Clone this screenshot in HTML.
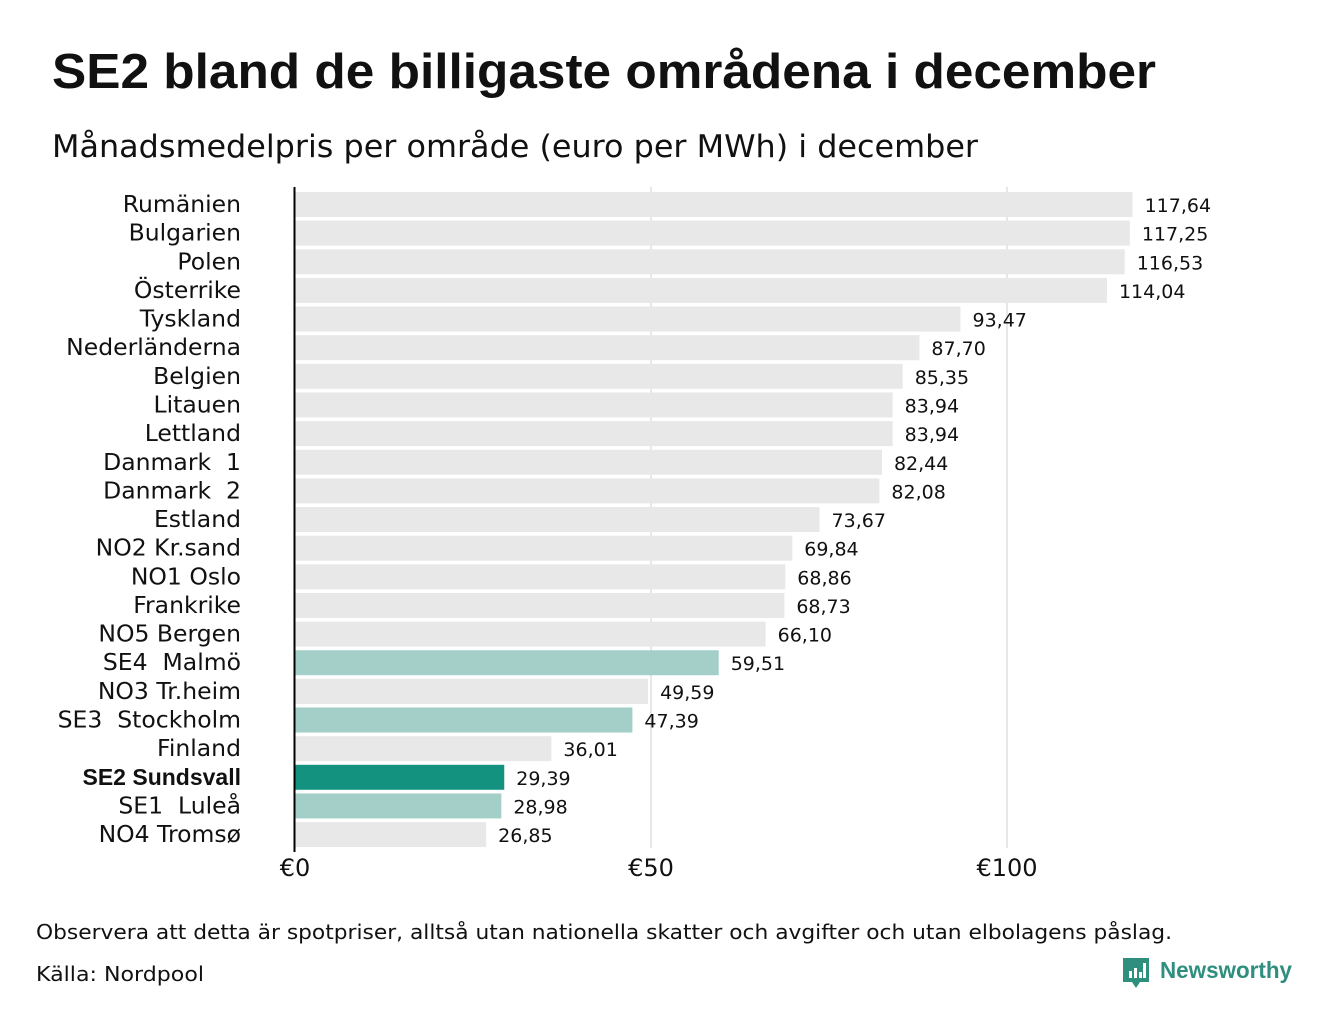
<!DOCTYPE html>
<html><head><meta charset="utf-8"><style>
body{margin:0;background:#fff;width:1340px;height:1020px;overflow:hidden;font-family:"DejaVu Sans","Liberation Sans",sans-serif}
svg{position:absolute;left:0;top:0}
</style></head><body>
<svg id="c" width="1340" height="1020">
<text x="52" y="88" font-size="49" font-weight="bold" fill="#111" font-family="Liberation Sans, sans-serif" textLength="1104" lengthAdjust="spacingAndGlyphs">SE2 bland de billigaste områdena i december</text>
<text x="52" y="157" font-size="31" fill="#111" textLength="926" lengthAdjust="spacingAndGlyphs">Månadsmedelpris per område (euro per MWh) i december</text>
<text x="36" y="939" font-size="20" fill="#111" textLength="1136" lengthAdjust="spacingAndGlyphs">Observera att detta är spotpriser, alltså utan nationella skatter och avgifter och utan elbolagens påslag.</text>
<text x="36" y="981" font-size="20" fill="#111" textLength="168" lengthAdjust="spacingAndGlyphs">Källa: Nordpool</text>
<g>
<path d="M1123 958 h26 v24 h-9 l-4 6 l-4 -6 h-9 z" fill="#2f8f7f"/>
<rect x="1129" y="971" width="3" height="7" fill="#fff"/><rect x="1134" y="968" width="3" height="10" fill="#fff"/><rect x="1139" y="972" width="3" height="6" fill="#fff"/><rect x="1143" y="963" width="3" height="15" fill="#fff"/>
<text x="1160" y="978" font-size="23" font-weight="bold" fill="#2f8f7f" font-family="Liberation Sans, sans-serif" textLength="132" lengthAdjust="spacingAndGlyphs">Newsworthy</text>
</g>
</svg>
<script>
const categories=["Rumänien","Bulgarien","Polen","Österrike","Tyskland","Nederländerna","Belgien","Litauen","Lettland","Danmark  1","Danmark  2","Estland","NO2 Kr.sand","NO1 Oslo","Frankrike","NO5 Bergen","SE4  Malmö","NO3 Tr.heim","SE3  Stockholm","Finland","SE2 Sundsvall","SE1  Luleå","NO4 Tromsø"];
const values=[117.64,117.25,116.53,114.04,93.47,87.70,85.35,83.94,83.94,82.44,82.08,73.67,69.84,68.86,68.73,66.10,59.51,49.59,47.39,36.01,29.39,28.98,26.85];
const highlight=[0,0,0,0,0,0,0,0,0,0,0,0,0,0,0,0,1,0,1,0,2,1,0];
const ticks=[0,50,100];
const tickLabels=["€0","€50","€100"];
const svg=document.getElementById('c');const NS="http://www.w3.org/2000/svg";
const x=v=>295+v*7.12;
const y=i=>192+i*28.64;
function mk(t,a){const e=document.createElementNS(NS,t);for(const k in a)e.setAttribute(k,a[k]);svg.appendChild(e);return e;}
ticks.forEach((t,i)=>{
 if(t>0){const g=mk('line',{x1:x(t),x2:x(t),y1:187,y2:848,stroke:'#cfcfcf','stroke-width':1});
 
 }
 const l=mk('text',{x:x(t),y:876,'font-size':24,'text-anchor':'middle',fill:'#111'});l.textContent=tickLabels[i];
 
 
});
const cols=['#e8e8e8','#a3cfc8','#13927f'];
categories.forEach((c,i)=>{
 const r=mk('rect',{x:x(0),y:y(i),width:x(values[i])-x(0),height:25,fill:cols[highlight[i]]});
 
 
 const bold=highlight[i]==2;
 const lb=mk('text',{x:241,y:y(i)+20,'font-size':bold?23:23.5,'text-anchor':'end',fill:'#111','font-weight':bold?'bold':'normal'});
 if(bold)lb.setAttribute('font-family','Liberation Sans, sans-serif');
 lb.textContent=c;lb.style.whiteSpace='pre';
 
 
 const v=mk('text',{x:x(values[i])+12,y:y(i)+20,'font-size':19,fill:'#111'});
 v.textContent=values[i].toFixed(2).replace('.',',');
 
 
});
const ax=mk('line',{x1:294.5,x2:294.5,y1:187,y2:852,stroke:'#000','stroke-width':2});


</script>
</body></html>
